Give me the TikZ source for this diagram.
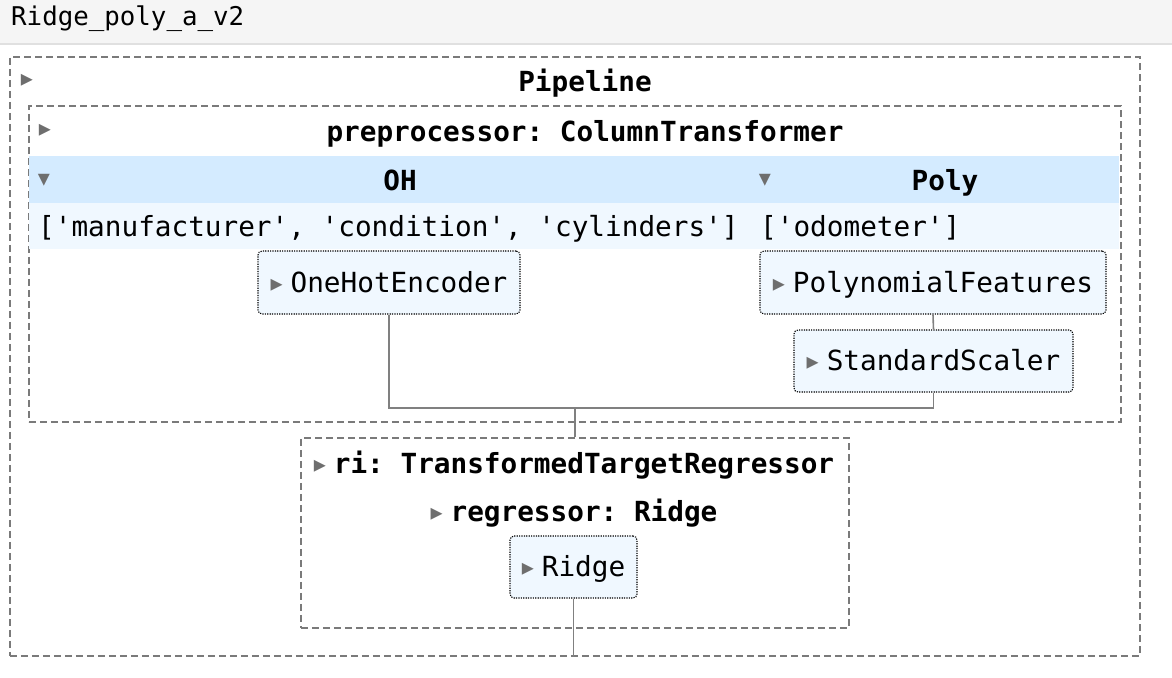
\documentclass[tikz,border=0pt]{standalone}
\usepackage{fontspec}
\setmonofont{DejaVu Sans Mono}
\newfontfamily\symfont{DejaVu Sans}
\usepackage{tikz}
\usetikzlibrary{positioning}
\usepackage{xcolor}
\definecolor{hdrgray}{HTML}{F5F5F5}
\definecolor{hdrline}{HTML}{E0E0E0}
\definecolor{boxgray}{HTML}{7A7A7A}
\definecolor{wiregray}{HTML}{808080}
\definecolor{trigray}{HTML}{6E6E6E}
\definecolor{bandblue}{HTML}{D4EBFF}
\definecolor{paleblue}{HTML}{F0F8FF}
\newcommand{\mono}{\fontsize{27.7}{33}\selectfont\ttfamily}
\newcommand{\rt}{\raisebox{1pt}{\textcolor{trigray}{\symfont\fontsize{24}{24}\selectfont ▸}}\hspace{8pt}}
\newcommand{\dt}{\textcolor{trigray}{\symfont\fontsize{24}{24}\selectfont ▾}}

\begin{document}
\begin{tikzpicture}[x=1pt,y=-1pt,
        dashbox/.style={draw=boxgray,line width=1.6pt,dash pattern=on 7pt off 4pt,
            anchor=north west,inner sep=0pt},
        estbox/.style={draw=black,line width=1.1pt,dash pattern=on 1.2pt off 1.2pt,
            rounded corners=4pt,fill=paleblue,inner sep=0pt,font=\mono,
            text height=22pt,text depth=3pt},
        lbl/.style={font=\mono,anchor=base,inner sep=0pt},
        boldlbl/.style={font=\mono\bfseries,anchor=base,inner sep=0pt},
        tri/.style={inner sep=0pt},
        wire/.style={draw=wiregray,line width=1.6pt}]
    \useasboundingbox (0,0) rectangle (1172,677);
    % title bar
    \fill[hdrgray] (0,0) rectangle (1172,43);
    \draw[hdrline,line width=1.5pt] (0,44) -- (1172,44);
    \node[anchor=base west,inner sep=0pt,font=\fontsize{25.8}{30}\selectfont\ttfamily] (title) at (11,26) {Ridge\_poly\_a\_v2};

    % pipeline
    \node[dashbox,minimum width=1130pt,minimum height=599pt] (pipe) at (9,56) {};
    \node[tri] (pipetri) at (27,81) {\rt};
    \node[boldlbl] (pipelbl) at (585,91) {Pipeline};

    % column transformer
    \node[dashbox,minimum width=1092pt,minimum height=316pt] (prep) at (28,105) {};
    \node[tri] (preptri) at (45,131) {\rt};
    \node[boldlbl] (preplbl) at (585,141) {preprocessor: ColumnTransformer};
    \fill[bandblue] (29,156) rectangle (1119,203);
    \fill[paleblue] (29,203) rectangle (1119,249);
    \node[tri] (ohtri) at (44,180) {\dt};
    \node[boldlbl] (ohlbl) at (400,190) {OH};
    \node[tri] (polytri) at (765,180) {\dt};
    \node[boldlbl] (polylbl) at (945,190) {Poly};
    \node[lbl,anchor=base west] (ohcols) at (38,236) {['manufacturer', 'condition', 'cylinders']};
    \node[lbl,anchor=base west] (polycols) at (760,236) {['odometer']};

    \node[estbox,minimum width=262pt,minimum height=63pt] (ohe) at (389,282.5) {\rt OneHotEncoder};
    \node[estbox,minimum width=346pt,minimum height=63pt] (poly) at (933,282.5) {\rt PolynomialFeatures};
    \node[estbox,minimum width=279pt,minimum height=62pt] (ss) at (933.5,361) {\rt StandardScaler};

    % regressor
    \node[dashbox,minimum width=548pt,minimum height=190pt] (ttr) at (300,437) {};
    \node[boldlbl] (ttrlbl) at (574,473) {\rt ri: TransformedTargetRegressor};
    \node[boldlbl] (reglbl) at (574,521) {\rt regressor: Ridge};
    \node[estbox,minimum width=127pt,minimum height=62pt] (ridge) at (573.5,567) {\rt Ridge};

    % connectors
    \coordinate (jn) at (575,408);
    \draw[wire] (poly.south) -- (ss.north);
    \draw[wire] (ohe.south) |- (ss.south |- jn) -- (ss.south);
    \draw[wire] (jn) -- (jn |- ttr.north);
    \draw[wire] (ridge.south) -- (ridge.south |- pipe.south);
\end{tikzpicture}
\end{document}
